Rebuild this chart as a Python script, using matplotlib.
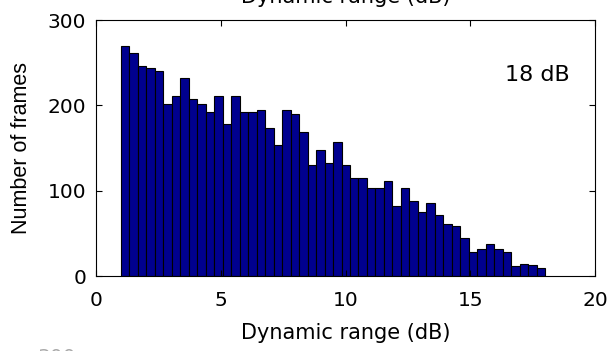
import numpy as np
import matplotlib
matplotlib.use("Agg")
import matplotlib.pyplot as plt

plt.rcParams['font.family'] = ['DejaVu Sans']

# Histogram data: 50 bins from 1 dB to 18 dB
bin_start = 1.0
bin_stop = 18.0
n_bins = 50
counts = [270, 261, 246, 244, 240, 202, 211, 232, 207, 202,
          192, 211, 178, 211, 192, 192, 195, 174, 153, 195,
          190, 169, 130, 148, 132, 157, 130, 115, 115, 103,
          103, 111, 82, 103, 88, 75, 85, 71, 61, 59,
          45, 28, 32, 38, 32, 28, 12, 14, 13, 9]
x_ticks = [0, 5, 10, 15, 20]
y_ticks = [0, 100, 200, 300]
annotation = "18 dB"
title = "Dynamic range (dB)"
xlabel = "Dynamic range (dB)"
ylabel = "Number of frames"

edges = np.linspace(bin_start, bin_stop, n_bins + 1)

W, H = 613, 351
fig = plt.figure(figsize=(W/100, H/100), dpi=100)
ax = fig.add_axes([96/W, (H-276)/H, 499/W, 256/H])

ax.bar(edges[:-1], counts, width=np.diff(edges), align='edge',
       color='#00008F', edgecolor='black', linewidth=0.8)

ax.set_xlim(0, 20)
ax.set_ylim(0, 300)
ax.set_xticks(x_ticks)
ax.set_yticks(y_ticks)
ax.tick_params(direction='in', top=True, right=True, length=4, width=0.8,
               labelsize=14.5)
ax.tick_params(axis='x', pad=11)
ax.tick_params(axis='y', pad=7)
for s in ax.spines.values():
    s.set_linewidth(0.8)

ax.set_xlabel(xlabel, fontsize=15, labelpad=9)
ax.set_ylabel(ylabel, fontsize=15.5, labelpad=11,
              family=['Liberation Sans', 'DejaVu Sans'])

ax.text(17.7, 236, annotation, fontsize=16, ha='center', va='center')

# Title cut off by the top of the figure
fig.text(345.5/W, 1 - 3/H, title, fontsize=15, ha='center', va='baseline')
# Next subplot's label partly visible at bottom edge
fig.text(57/W, 1 - 348/H, "300", fontsize=14.5, ha='center', va='top', color='#aaaaaa')

fig.savefig("out.png", dpi=100)
